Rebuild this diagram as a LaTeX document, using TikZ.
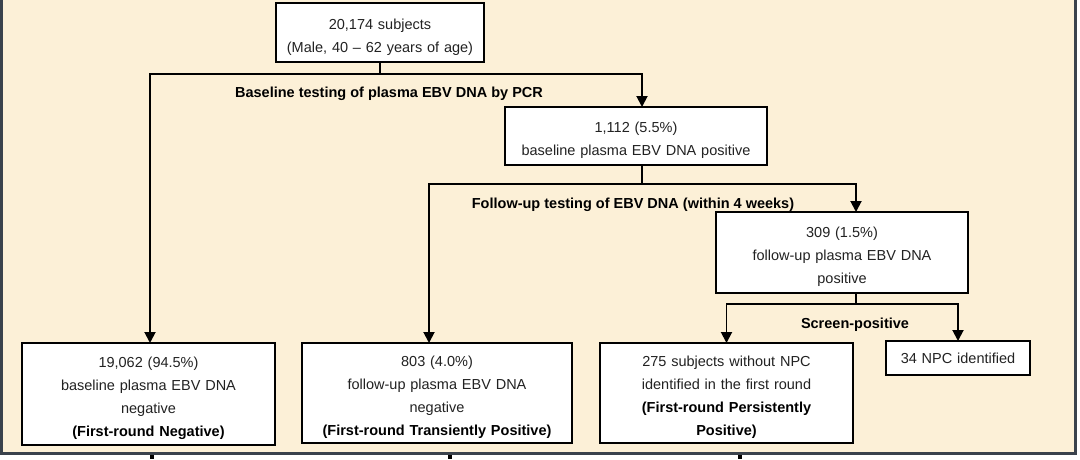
\documentclass[tikz,border=0pt]{standalone}
\usepackage{fontspec}
\setmainfont{Liberation Sans}
\usetikzlibrary{arrows.meta}
\definecolor{bg}{HTML}{FCF0D7}
\definecolor{framec}{HTML}{3A424C}
\definecolor{txt}{HTML}{222222}
\newcommand\boxtop{\rule{0pt}{19pt}}
\begin{document}
\begin{tikzpicture}[x=1pt,y=-1pt,
  box/.style={draw=black, line width=2.9pt, fill=white, inner sep=0pt, outer sep=0pt, align=center,
    text=txt, font=\fontsize{14.5}{23}\selectfont, anchor=north west},
  lbl/.style={font=\bfseries\fontsize{14.5}{17}\selectfont, text=black, inner sep=0pt},
  conn/.style={draw=black, line width=1.9pt},
  arr/.style={conn, -{Triangle[width=11pt,length=11pt]}},
  stub/.style={draw=black, line width=4pt}]
% canvas
\fill[white] (0,0) rectangle (1080,459);
\fill[bg] (3,0) rectangle (1074,453);
\fill[framec] (0,0) rectangle (3,455);
\fill[framec] (1074,0) rectangle (1077,455);
\fill[framec] (0,452) rectangle (1077,455);
\useasboundingbox (0,0) rectangle (1080,459);

% boxes
\node[box, minimum width=208pt, text width=208pt, minimum height=59pt] (top) at (276,3)
  {\boxtop 20,174 subjects\\(Male, 40 – 62 years of age)};
\node[box, minimum width=262pt, text width=262pt, minimum height=58pt] (b1112) at (505,107)
  {\boxtop 1,112 (5.5\%)\\baseline plasma EBV DNA positive};
\node[box, minimum width=252pt, text width=252pt, minimum height=81pt] (b309) at (716,212)
  {\boxtop 309 (1.5\%)\\follow-up plasma EBV DNA\\positive};
\node[box, minimum width=253pt, text width=253pt, minimum height=102pt] (b19) at (22,343)
  {\boxtop 19,062 (94.5\%)\\baseline plasma EBV DNA\\negative\\\textbf{\color{black}(First-round Negative)}};
\node[box, minimum width=270pt, text width=270pt, minimum height=100pt] (b803) at (302,343)
  {\boxtop 803 (4.0\%)\\follow-up plasma EBV DNA\\negative\\\textbf{\color{black}(First-round Transiently Positive)}};
\node[box, minimum width=253pt, text width=253pt, minimum height=100pt] (b275) at (600,343)
  {\boxtop 275 subjects without NPC\\identified in the first round\\\textbf{\color{black}(First-round Persistently}\\\textbf{\color{black}Positive)}};
\node[box, minimum width=144pt, text width=144pt, minimum height=34pt] (b34) at (886,341)
  {34 NPC identified};

% labels
\node[lbl] (l1) at (389,94) {Baseline testing of plasma EBV DNA by PCR};
\node[lbl] (l2) at (633,205) {Follow-up testing of EBV DNA (within 4 weeks)};
\node[lbl] (l3) at (855,325) {Screen-positive};

% connectors
\draw[conn] (top.south) -- ++(0,12) coordinate (j1);
\draw[arr] (j1) -| ([xshift=1.5pt]b19.north);
\draw[arr] (j1) -| ([xshift=6pt]b1112.north);

\draw[conn] ([xshift=6pt]b1112.south) -- ++(0,19) coordinate (j2);
\draw[arr] (j2) -| ([xshift=-8pt]b803.north);
\draw[arr] (j2) -| ([xshift=14pt]b309.north);

\draw[conn] ([xshift=14pt]b309.south) -- ++(0,11) coordinate (j3);
\draw[arr] (j3) -| (b275.north);
\draw[arr] (j3) -| (b34.north);

% stubs of connectors continuing below the panel
\coordinate (s1) at (152,455); \coordinate (s1e) at (152,459);
\coordinate (s2) at (450,455); \coordinate (s2e) at (450,459);
\coordinate (s3) at (740,455); \coordinate (s3e) at (740,459);
\draw[stub] (s1) -- (s1e);
\draw[stub] (s2) -- (s2e);
\draw[stub] (s3) -- (s3e);
\end{tikzpicture}
\end{document}
